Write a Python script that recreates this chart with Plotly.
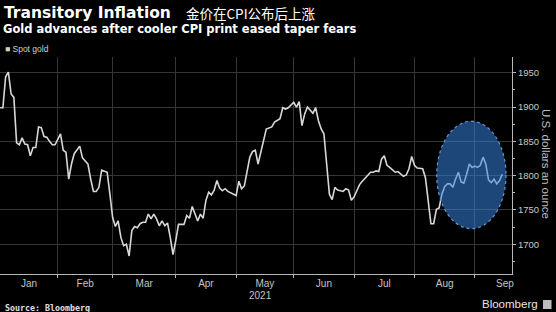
import math
import pandas as pd
import plotly.graph_objects as go

# ---- data (spot gold, USD/oz, one value per business day) ----
jan = [1899, 1899, 1944, 1951, 1919, 1914, 1848, 1845, 1855, 1846, 1845, 1829, 1841, 1841,
       1871, 1870, 1857, 1856, 1850, 1845, 1845]
feb = [1852, 1861, 1837, 1834, 1795, 1817, 1832, 1838, 1843, 1826, 1822, 1817, 1795, 1777,
       1777, 1783, 1808, 1806, 1805, 1773]
mar = [1739, 1726, 1734, 1710, 1698, 1700, 1683, 1720, 1726, 1724, 1730, 1732, 1732, 1744,
       1737, 1744, 1737, 1727, 1734, 1727, 1731, 1710, 1685]
apr = [1705, 1729, 1729, 1729, 1742, 1738, 1755, 1744, 1734, 1744, 1738, 1764, 1776, 1772,
       1779, 1793, 1782, 1778, 1781, 1777, 1775, 1772]
may = [1771, 1792, 1781, 1785, 1807, 1827, 1835, 1837, 1817, 1832, 1851, 1868, 1870, 1871,
       1878, 1881, 1883, 1899, 1897, 1899, 1903]
jun = [1907, 1900, 1908, 1873, 1890, 1900, 1896, 1891, 1899, 1880, 1868, 1861, 1817, 1773,
       1765, 1783, 1779, 1778, 1777, 1781, 1779, 1764]
jul = [1769, 1778, 1787, 1792, 1796, 1800, 1805, 1805, 1807, 1806, 1824, 1829, 1815, 1812,
       1808, 1805, 1806, 1802, 1799, 1801, 1810, 1828]
aug = [1815, 1811, 1811, 1810, 1797, 1759, 1730, 1730, 1751, 1753, 1773, 1784, 1788, 1788,
       1783, 1795, 1805, 1791, 1789, 1802, 1817, 1812]
sep = [1814, 1812, 1815, 1827, 1817, 1794, 1790, 1795, 1788, 1793, 1802]

values = jan + feb + mar + apr + may + jun + jul + aug + sep
dates = pd.bdate_range("2021-01-01", "2021-09-15")

month_names = ["Jan", "Feb", "Mar", "Apr", "May", "Jun", "Jul", "Aug", "Sep"]
y_ticks = [1700, 1750, 1800, 1850, 1900, 1950]
series_name = "Spot gold"

# ---- business-day helpers ----
bd = pd.bdate_range("2020-12-01", "2021-10-29")
i0 = bd.get_loc(pd.Timestamp("2021-01-01"))


def pos(f):
    k = math.floor(f)
    t = bd[i0 + k] + pd.Timedelta(days=f - k)
    return t.strftime("%Y-%m-%d %H:%M:%S")


starts = [bd.searchsorted(pd.Timestamp(2021, m, 1)) - i0 for m in range(1, 11)]
grid_vals = [pos(s) for s in starts[1:9]]
label_vals = [pos((starts[i] + starts[i + 1]) / 2) for i in range(9)]

W, H = 556, 312
ML, MR, MT, MB = 0, 44, 57, 38
PW, PH = W - ML - MR, H - MT - MB


def px(x):
    return (x - ML) / PW


def py(y):
    return (H - MB - y) / PH


fig = go.Figure()
fig.add_trace(go.Scatter(
    x=dates, y=values, mode="lines", name=series_name,
    line=dict(color="#d8d8d8", width=1.6), hoverinfo="skip", showlegend=False,
))

tick_font = dict(family="Liberation Sans, Arial, sans-serif", size=10, color="#c4c4c4")

fig.update_layout(
    width=W, height=H,
    margin=dict(l=ML, r=MR, t=MT, b=MB, pad=0),
    paper_bgcolor="#000000", plot_bgcolor="#000000",
    showlegend=False,
    xaxis=dict(
        type="date",
        rangebreaks=[dict(bounds=["sat", "mon"])],
        range=[pos(-0.05), pos(186.55)],
        tickmode="array", tickvals=label_vals, ticktext=month_names,
        ticks="", showgrid=False, zeroline=False,
        showline=True, linecolor="#b8b8b8", linewidth=1,
        tickfont=tick_font,
        minor=dict(tickmode="array", tickvals=grid_vals, showgrid=True,
                   gridcolor="#363636", gridwidth=1, ticks="outside",
                   ticklen=3, tickcolor="#b8b8b8", tickwidth=1),
        fixedrange=True,
    ),
    yaxis=dict(
        side="right",
        range=[1656.7, 1972.9],
        tickmode="array", tickvals=y_ticks,
        showgrid=True, gridcolor="#363636", gridwidth=1,
        zeroline=False,
        showline=True, linecolor="#b8b8b8", linewidth=1,
        ticks="outside", ticklen=3, tickcolor="#b8b8b8",
        tickfont=dict(family="Liberation Sans, Arial, sans-serif", size=9.5, color="#c8c8c8"),
        minor=dict(tickmode="linear", tick0=1675, dtick=50, ticks="outside",
                   ticklen=2, tickcolor="#b8b8b8", showgrid=False),
        fixedrange=True,
    ),
)

# highlight ellipse
fig.add_shape(type="circle", xref="paper", yref="paper",
              x0=px(436.7), x1=px(506), y0=py(228.7), y1=py(121.3),
              fillcolor="rgb(52,128,220)", opacity=0.55, line=dict(width=0),
              layer="above")
fig.add_shape(type="circle", xref="paper", yref="paper",
              x0=px(436.7), x1=px(506), y0=py(228.7), y1=py(121.3),
              fillcolor="rgba(0,0,0,0)",
              line=dict(color="rgb(105,150,205)", width=1.2, dash="dot"),
              layer="above")

# small Bloomberg icon
fig.add_shape(type="rect", xref="paper", yref="paper",
              x0=px(543), x1=px(551.5), y0=py(309), y1=py(300),
              fillcolor="#bdbdbd", line=dict(width=0))

ann = []
ann.append(dict(text="<b>Transitory Inflation</b>", x=px(1.5), y=py(12.5),
                xanchor="left", yanchor="middle",
                font=dict(family="DejaVu Sans, sans-serif", size=15.5, color="#ffffff")))
ann.append(dict(text="金价在CPI公布后上涨", x=px(184), y=py(12.5),
                xanchor="left", yanchor="middle",
                font=dict(family="Noto Sans CJK SC, sans-serif", size=13.5, color="#ffffff")))
ann.append(dict(text="<b>Gold advances after cooler CPI print eased taper fears</b>",
                x=px(0.5), y=py(29), xanchor="left", yanchor="middle",
                font=dict(family="DejaVu Sans, sans-serif", size=11.5, color="#ffffff")))
ann.append(dict(text="■ " + series_name, x=px(3), y=py(49), xanchor="left", yanchor="middle",
                font=dict(family="Liberation Sans, Arial, sans-serif", size=8.5, color="#d0d0d0")))
ann.append(dict(text="U.S. dollars an ounce", x=px(546), y=py(164), textangle=90,
                xanchor="center", yanchor="middle",
                font=dict(family="Liberation Sans, Arial, sans-serif", size=11.5, color="#bdbdbd")))
ann.append(dict(text="2021", x=px(260.6), y=py(295.4), xanchor="center", yanchor="middle",
                font=tick_font))
ann.append(dict(text="<b>Source: Bloomberg</b>", x=px(2.5), y=py(307.5),
                xanchor="left", yanchor="middle",
                font=dict(family="DejaVu Sans Mono, monospace", size=8.3, color="#e0e0e0")))
ann.append(dict(text="Bloomberg", x=px(540), y=py(304.3), xanchor="right", yanchor="middle",
                font=dict(family="Liberation Sans, Arial, sans-serif", size=11.5, color="#e6e6e6")))
for a in ann:
    a.update(xref="paper", yref="paper", showarrow=False)
fig.update_layout(annotations=ann)

fig.write_html("out.html")
